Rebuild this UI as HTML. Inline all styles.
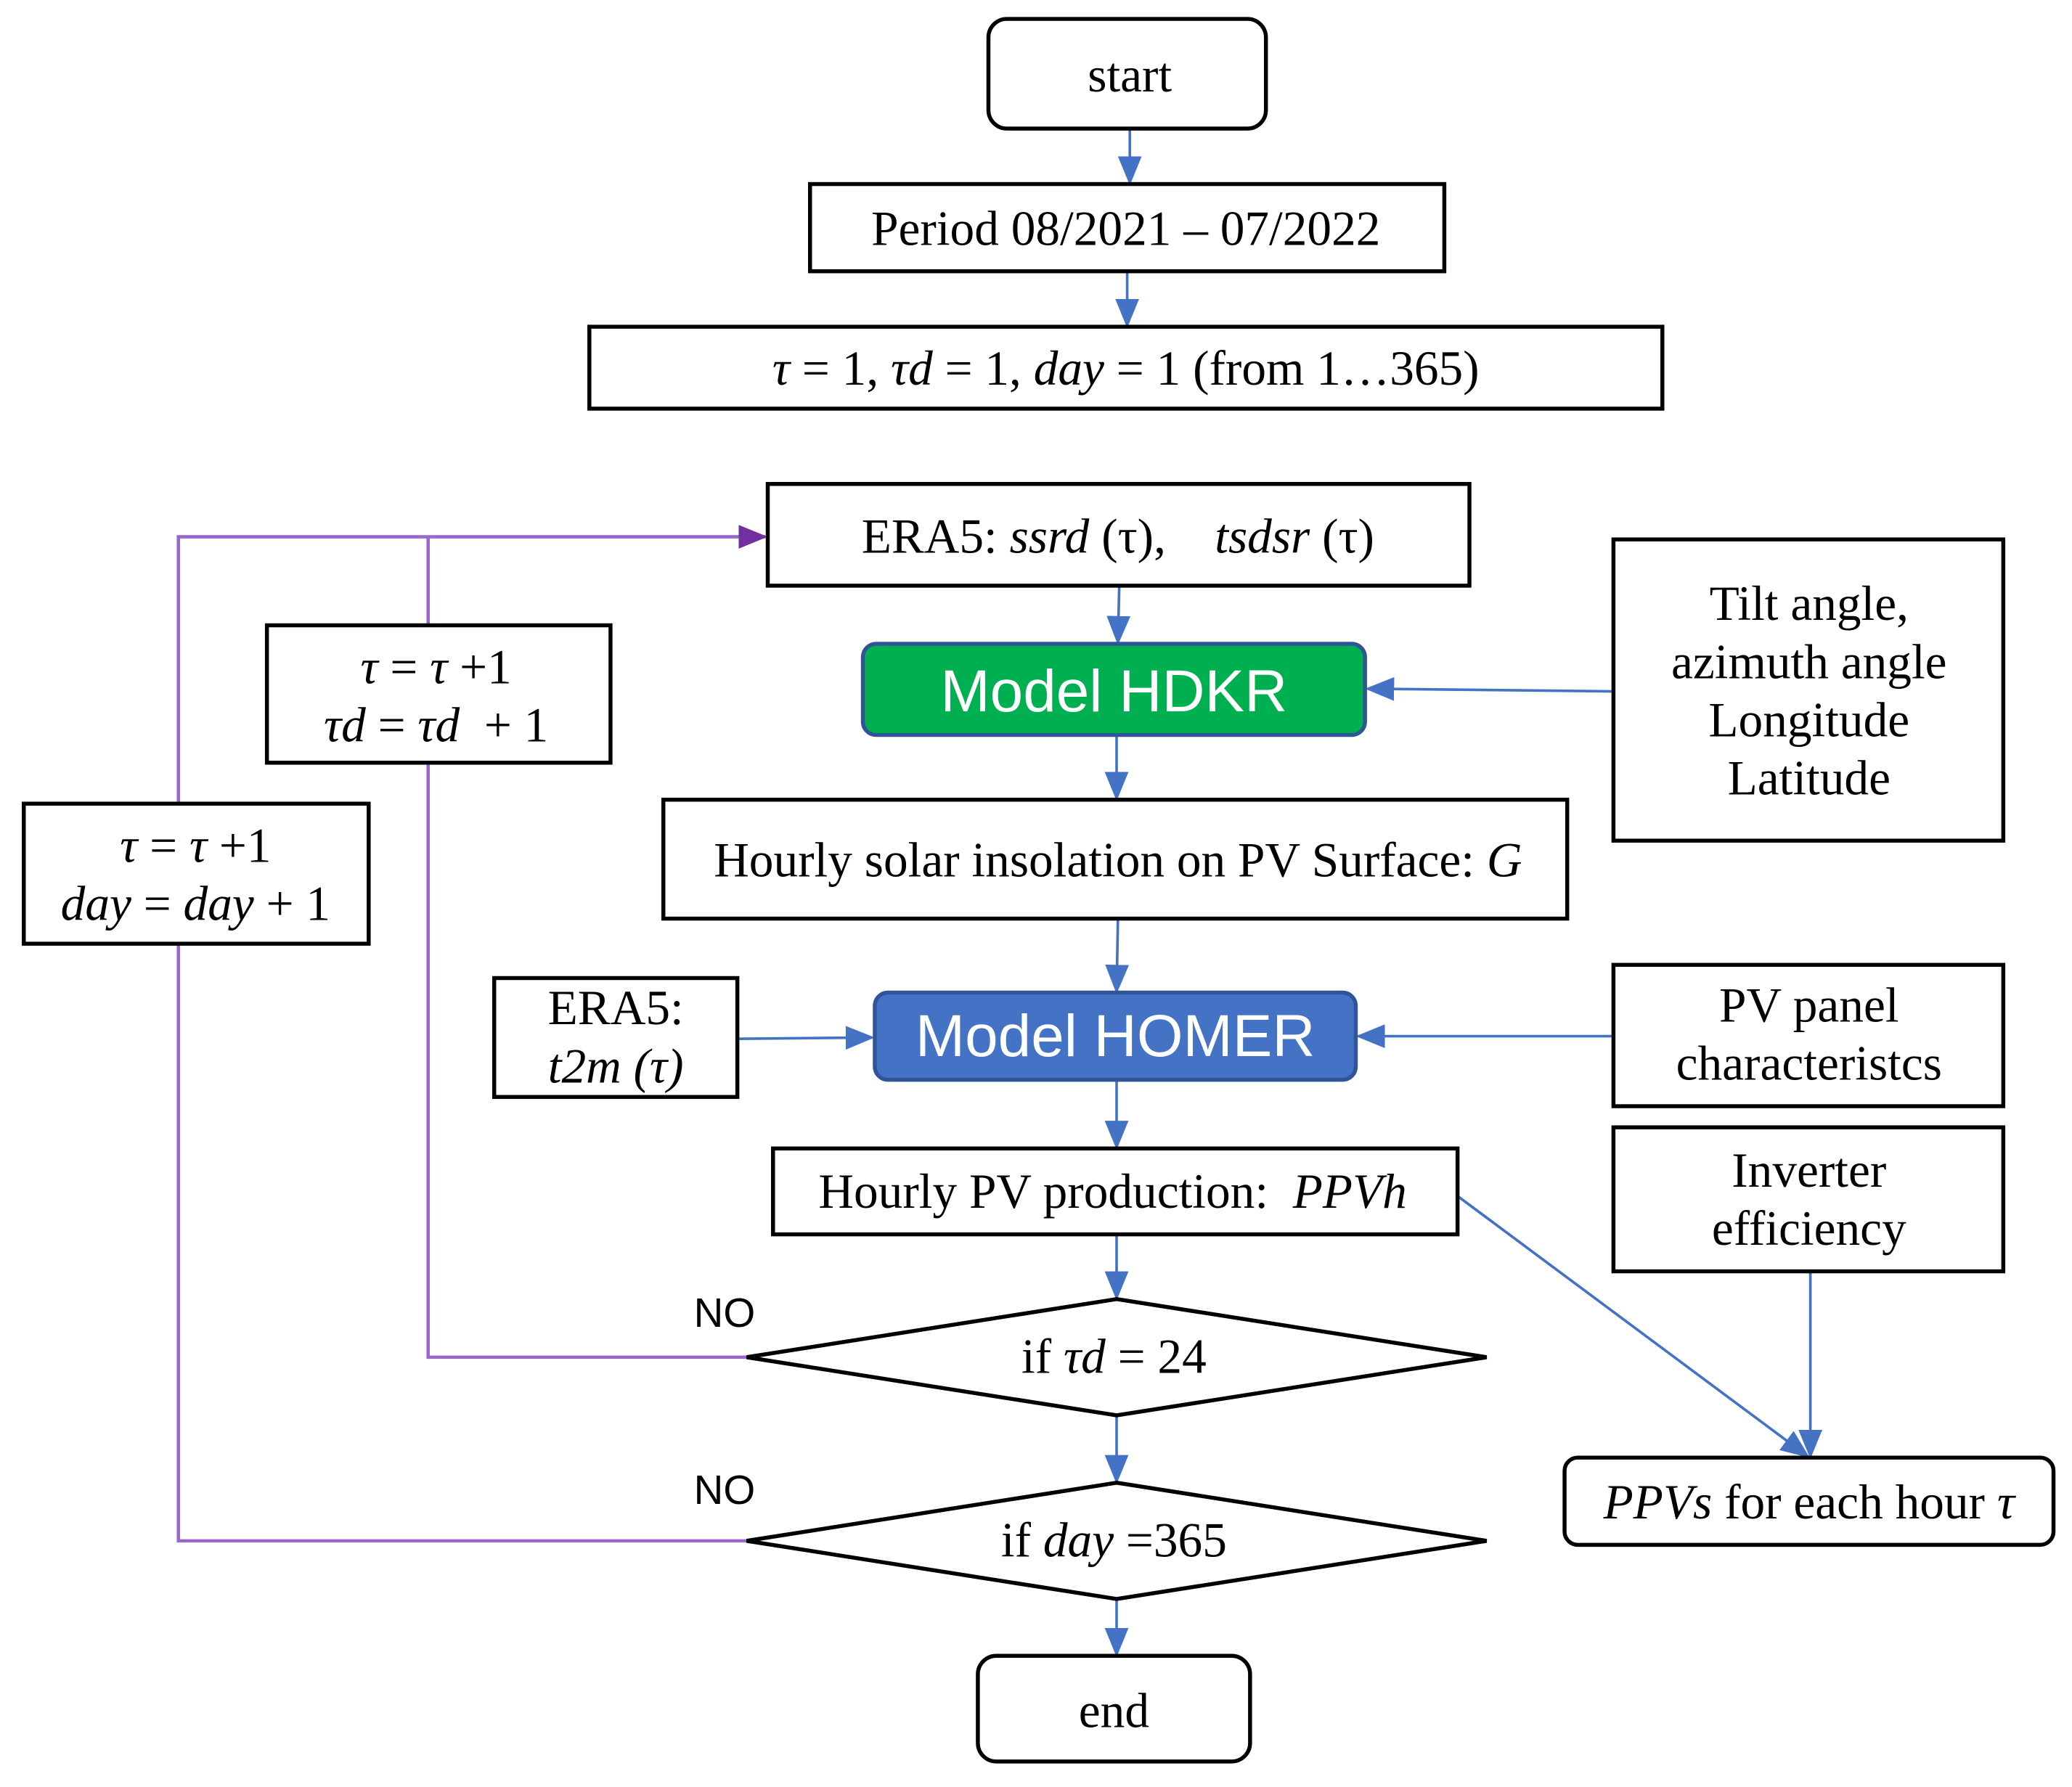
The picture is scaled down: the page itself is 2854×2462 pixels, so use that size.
<!DOCTYPE html>
<html><head><meta charset="utf-8"><style>
html,body{margin:0;padding:0;background:#fff}
svg{display:block}
.s{font-family:"Liberation Serif",serif;font-size:37px;fill:#000}
.a{font-family:"Liberation Sans","DejaVu Sans",sans-serif}
</style></head><body>
<svg width="2854" height="2462" viewBox="0 0 1568 1352" xmlns="http://www.w3.org/2000/svg">
<defs>
<marker id="bb" markerWidth="22" markerHeight="22" refX="20" refY="11" orient="auto" markerUnits="userSpaceOnUse"><path d="M0,2L22,11L0,20z" fill="#4472c4"/></marker>
<marker id="p" markerWidth="22" markerHeight="22" refX="20" refY="11" orient="auto" markerUnits="userSpaceOnUse"><path d="M0,2L22,11L0,20z" fill="#7030a0"/></marker>
</defs>
<g fill="none" stroke="#9966cc" stroke-width="2.5">
<polyline points="565,1027 324,1027 324,406"/>
<polyline points="565,1166 135,1166 135,406 579,406" marker-end="url(#p)"/>
</g>
<g stroke="#4472c4" stroke-width="2" fill="none" marker-end="url(#bb)">
<line x1="855" y1="97" x2="855" y2="138"/>
<line x1="853" y1="205" x2="853" y2="246"/>
<line x1="847" y1="443" x2="846" y2="486"/>
<line x1="845" y1="556" x2="845" y2="604"/>
<line x1="846" y1="695" x2="845" y2="750"/>
<line x1="845" y1="817" x2="845" y2="868"/>
<line x1="845" y1="934" x2="845" y2="982"/>
<line x1="845" y1="1071" x2="845" y2="1121"/>
<line x1="845" y1="1210" x2="845" y2="1252"/>
<line x1="1221" y1="523" x2="1035" y2="521"/>
<line x1="1221" y1="784" x2="1028" y2="784"/>
<line x1="558" y1="786" x2="660" y2="785"/>
<line x1="1103" y1="905" x2="1368" y2="1102"/>
<line x1="1370" y1="962" x2="1370" y2="1102"/>
</g>
<g stroke="#000" stroke-width="3" fill="#fff">
<rect x="748" y="14" width="210" height="83" rx="14"/>
<rect x="613" y="139" width="480" height="66"/>
<rect x="446" y="247" width="812" height="62"/>
<rect x="581" y="366" width="531" height="77"/>
<rect x="502" y="605" width="684" height="90"/>
<rect x="1221" y="408" width="295" height="228"/>
<rect x="374" y="740" width="184" height="90"/>
<rect x="1221" y="730" width="295" height="107"/>
<rect x="1221" y="853" width="295" height="109"/>
<rect x="585" y="869" width="518" height="65"/>
<polygon points="565,1027 845,983 1125,1027 845,1071"/>
<polygon points="565,1166 845,1122 1125,1166 845,1210"/>
<rect x="740" y="1253" width="206" height="80" rx="14"/>
<rect x="1184" y="1103" width="370" height="66" rx="10"/>
<rect x="202" y="473" width="260" height="104"/>
<rect x="18" y="608" width="261" height="106"/>
</g>
<rect x="653" y="487" width="380" height="69" rx="10" fill="#00b050" stroke="#2f5597" stroke-width="3"/>
<rect x="662" y="751" width="364" height="66" rx="10" fill="#4472c4" stroke="#2f5597" stroke-width="3"/>
<g class="s" text-anchor="middle">
<text x="855" y="69">start</text>
<text x="852" y="185">Period 08/2021 – 07/2022</text>
<text x="852" y="291"><tspan font-style="italic">τ</tspan> = 1, <tspan font-style="italic">τd</tspan> = 1, <tspan font-style="italic">day</tspan> = 1 (from 1…365)</text>
<text x="846" y="418" xml:space="preserve">ERA5: <tspan font-style="italic">ssrd</tspan> (τ),    <tspan font-style="italic">tsdsr</tspan> (τ)</text>
<text x="846" y="663">Hourly solar insolation on PV Surface: <tspan font-style="italic">G</tspan></text>
<text x="1369" y="469">Tilt angle,</text>
<text x="1369" y="513">azimuth angle</text>
<text x="1369" y="557">Longitude</text>
<text x="1369" y="601">Latitude</text>
<text x="466" y="775">ERA5:</text>
<text x="466" y="819" font-style="italic">t2m (τ)</text>
<text x="1369" y="773">PV panel</text>
<text x="1369" y="817">characteristcs</text>
<text x="1369" y="898">Inverter</text>
<text x="1369" y="942">efficiency</text>
<text x="842" y="914" xml:space="preserve">Hourly PV production:  <tspan font-style="italic">PPVh</tspan></text>
<text x="843" y="1039">if <tspan font-style="italic">τd</tspan> = 24</text>
<text x="843" y="1178">if <tspan font-style="italic">day</tspan> =365</text>
<text x="843" y="1307">end</text>
<text x="1369" y="1149"><tspan font-style="italic">PPVs</tspan> for each hour <tspan font-style="italic">τ</tspan></text>
<text x="330" y="517"><tspan font-style="italic">τ</tspan> = <tspan font-style="italic">τ</tspan> +1</text>
<text x="330" y="561" xml:space="preserve"><tspan font-style="italic">τd</tspan> = <tspan font-style="italic">τd</tspan>  + 1</text>
<text x="148" y="652"><tspan font-style="italic">τ</tspan> = <tspan font-style="italic">τ</tspan> +1</text>
<text x="148" y="696"><tspan font-style="italic">day</tspan> = <tspan font-style="italic">day</tspan> + 1</text>
</g>
<g class="a" text-anchor="middle" fill="#fff" font-size="45">
<text x="843" y="538">Model  HDKR</text>
<text x="844" y="799">Model  HOMER</text>
</g>
<g class="a" font-size="31" fill="#000">
<text x="525" y="1004">NO</text>
<text x="525" y="1138">NO</text>
</g>
</svg>
</body></html>
